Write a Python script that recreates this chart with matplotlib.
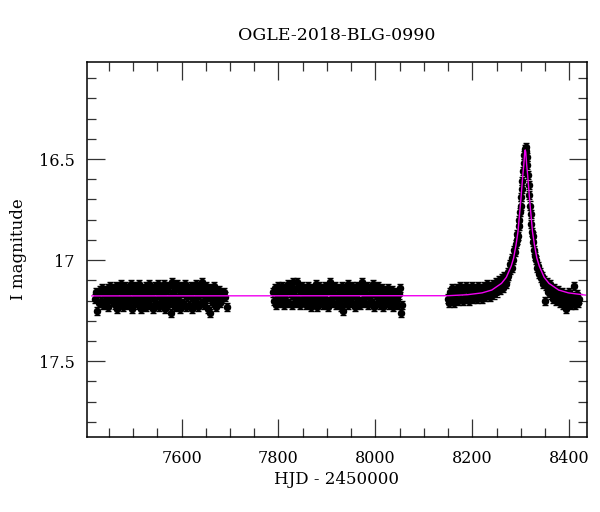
import numpy as np
import matplotlib
matplotlib.use("Agg")
import matplotlib.pyplot as plt
from matplotlib.ticker import MultipleLocator

plt.rcParams['font.family'] = ['DejaVu Serif']

title = "OGLE-2018-BLG-0990"

# season 1
s1_hjd = [7421.3, 7423.2, 7425.8, 7427.1, 7429.6, 7431.4, 7433.9, 7435.2, 7437.8, 7439.5,
          7441.9, 7443.3, 7445.7, 7447.6, 7449.2, 7451.8, 7453.4, 7455.9, 7457.3, 7459.6,
          7461.8, 7463.2, 7465.7, 7467.4, 7469.9, 7471.1, 7473.6, 7475.8, 7477.3, 7479.7,
          7481.4, 7483.8, 7485.2, 7487.9, 7489.5, 7491.3, 7493.7, 7495.2, 7497.8, 7499.4,
          7501.9, 7503.3, 7505.6, 7507.8, 7509.2, 7511.7, 7513.4, 7515.9, 7517.3, 7519.6,
          7521.8, 7523.2, 7525.7, 7527.4, 7529.8, 7531.1, 7533.6, 7535.9, 7537.3, 7539.7,
          7541.4, 7543.8, 7545.2, 7547.9, 7549.5, 7551.3, 7553.7, 7555.2, 7557.8, 7559.4,
          7561.9, 7563.3, 7565.6, 7567.8, 7569.2, 7571.7, 7573.4, 7575.9, 7577.3, 7579.6,
          7581.8, 7583.2, 7585.7, 7587.4, 7589.8, 7591.1, 7593.6, 7595.9, 7597.3, 7599.7,
          7601.4, 7603.8, 7605.2, 7607.9, 7609.5, 7611.3, 7613.7, 7615.2, 7617.8, 7619.4,
          7621.9, 7623.3, 7625.6, 7627.8, 7629.2, 7631.7, 7633.4, 7635.9, 7637.3, 7639.6,
          7641.8, 7643.2, 7645.7, 7647.4, 7649.8, 7651.1, 7653.6, 7655.9, 7657.3, 7659.7,
          7661.4, 7663.8, 7665.2, 7667.9, 7669.5, 7671.3, 7673.7, 7675.2, 7677.8, 7679.4,
          7681.9, 7684.3, 7687.6, 7690.2, 7693.4]
s1_mag = [17.19, 17.16, 17.25, 17.17, 17.21, 17.15, 17.20, 17.14, 17.22, 17.17,
          17.15, 17.21, 17.18, 17.14, 17.23, 17.16, 17.13, 17.20, 17.18, 17.14,
          17.22, 17.17, 17.13, 17.24, 17.19, 17.15, 17.21, 17.12, 17.18, 17.23,
          17.16, 17.13, 17.20, 17.17, 17.22, 17.14, 17.19, 17.12, 17.24, 17.16,
          17.13, 17.21, 17.18, 17.15, 17.22, 17.12, 17.19, 17.24, 17.16, 17.14,
          17.21, 17.17, 17.13, 17.23, 17.19, 17.15, 17.12, 17.22, 17.17, 17.14,
          17.24, 17.19, 17.13, 17.21, 17.16, 17.12, 17.23, 17.18, 17.14, 17.21,
          17.17, 17.12, 17.24, 17.19, 17.15, 17.22, 17.13, 17.18, 17.26, 17.11,
          17.16, 17.21, 17.13, 17.23, 17.18, 17.12, 17.20, 17.15, 17.24, 17.17,
          17.13, 17.21, 17.16, 17.12, 17.23, 17.18, 17.14, 17.22, 17.17, 17.13,
          17.24, 17.19, 17.15, 17.21, 17.12, 17.18, 17.23, 17.16, 17.13, 17.21,
          17.17, 17.11, 17.22, 17.15, 17.19, 17.13, 17.24, 17.17, 17.14, 17.26,
          17.19, 17.15, 17.21, 17.13, 17.18, 17.23, 17.16, 17.19, 17.15, 17.21,
          17.17, 17.19, 17.16, 17.18, 17.23]

# season 2
s2_hjd = [7788.4, 7790.2, 7792.7, 7794.5, 7796.1, 7798.6, 7800.3, 7802.8, 7804.4, 7806.9,
          7808.2, 7810.7, 7812.3, 7814.8, 7816.5, 7818.1, 7820.6, 7822.4, 7824.9, 7826.2,
          7828.7, 7830.3, 7832.8, 7834.5, 7836.1, 7838.6, 7840.4, 7842.9, 7844.2, 7846.7,
          7848.3, 7850.8, 7852.5, 7854.1, 7856.6, 7858.4, 7860.9, 7862.2, 7864.7, 7866.3,
          7868.8, 7870.5, 7872.1, 7874.6, 7876.4, 7878.9, 7880.2, 7882.7, 7884.3, 7886.8,
          7888.5, 7890.1, 7892.6, 7894.4, 7896.9, 7898.2, 7900.7, 7902.3, 7904.8, 7906.5,
          7908.1, 7910.6, 7912.4, 7914.9, 7916.2, 7918.7, 7920.3, 7922.8, 7924.5, 7926.1,
          7928.6, 7930.4, 7932.9, 7934.2, 7936.7, 7938.3, 7940.8, 7942.5, 7944.1, 7946.6,
          7948.4, 7950.9, 7952.2, 7954.7, 7956.3, 7958.8, 7960.5, 7962.1, 7964.6, 7966.4,
          7968.9, 7970.2, 7972.7, 7974.3, 7976.8, 7978.5, 7980.1, 7982.6, 7984.4, 7986.9,
          7988.2, 7990.7, 7992.3, 7994.8, 7996.5, 7998.1, 8000.6, 8002.4, 8004.9, 8006.2,
          8008.7, 8010.3, 8012.8, 8014.5, 8016.1, 8018.6, 8020.4, 8022.9, 8024.2, 8026.7,
          8028.3, 8030.8, 8032.5, 8034.1, 8036.6, 8038.4, 8040.9, 8042.2, 8044.7, 8046.3,
          8048.8, 8050.5, 8052.1, 8054.6]
s2_mag = [17.16, 17.20, 17.14, 17.22, 17.17, 17.13, 17.19, 17.15, 17.21, 17.17,
          17.13, 17.22, 17.18, 17.14, 17.20, 17.16, 17.12, 17.21, 17.17, 17.14,
          17.22, 17.11, 17.18, 17.15, 17.21, 17.11, 17.19, 17.14, 17.22, 17.16,
          17.13, 17.20, 17.17, 17.14, 17.22, 17.18, 17.13, 17.20, 17.16, 17.23,
          17.14, 17.18, 17.21, 17.15, 17.12, 17.19, 17.23, 17.16, 17.13, 17.21,
          17.17, 17.14, 17.22, 17.18, 17.13, 17.20, 17.16, 17.23, 17.14, 17.11,
          17.19, 17.15, 17.21, 17.17, 17.13, 17.22, 17.18, 17.14, 17.20, 17.16,
          17.23, 17.13, 17.25, 17.18, 17.14, 17.21, 17.17, 17.12, 17.22, 17.16,
          17.19, 17.13, 17.21, 17.17, 17.14, 17.23, 17.18, 17.13, 17.20, 17.16,
          17.22, 17.14, 17.11, 17.19, 17.15, 17.21, 17.17, 17.13, 17.22, 17.18,
          17.14, 17.20, 17.16, 17.12, 17.23, 17.17, 17.14, 17.21, 17.18, 17.13,
          17.22, 17.16, 17.19, 17.14, 17.23, 17.17, 17.15, 17.21, 17.18, 17.14,
          17.22, 17.17, 17.20, 17.15, 17.23, 17.18, 17.21, 17.16, 17.19, 17.22,
          17.17, 17.14, 17.26, 17.22]

# season 3 (event)
s3_hjd = [8150.6, 8152.3, 8154.8, 8156.5, 8158.1, 8160.7, 8162.4, 8164.9, 8166.2, 8168.7,
          8170.3, 8172.8, 8174.5, 8176.1, 8178.6, 8180.4, 8182.9, 8184.2, 8186.7, 8188.3,
          8190.8, 8192.5, 8194.1, 8196.6, 8198.4, 8200.9, 8202.2, 8204.7, 8206.3, 8208.8,
          8210.5, 8212.1, 8214.6, 8216.4, 8218.9, 8220.2, 8222.7, 8224.3, 8226.8, 8228.5,
          8230.1, 8232.6, 8234.4, 8236.9, 8238.2, 8240.7, 8242.3, 8244.8, 8246.5, 8248.1,
          8250.6, 8252.4, 8254.9, 8256.2, 8258.7, 8260.3, 8262.8, 8264.5, 8266.1, 8268.6,
          8270.4, 8272.9, 8274.2, 8276.7, 8278.3, 8280.8, 8282.5, 8284.1, 8286.6, 8288.4,
          8290.2, 8291.5, 8292.8, 8294.1, 8295.4, 8296.7, 8298.0, 8299.3, 8300.6, 8301.9,
          8303.2, 8304.5, 8305.8, 8307.1, 8308.4, 8309.7, 8311.0, 8312.3, 8313.6, 8314.9,
          8316.2, 8317.5, 8318.8, 8320.1, 8321.4, 8322.7, 8324.0, 8325.3, 8327.6, 8329.2,
          8331.7, 8333.3, 8335.8, 8337.4, 8339.9, 8341.2, 8343.7, 8345.3, 8347.8, 8349.4,
          8351.1, 8353.6, 8355.2, 8357.7, 8359.3, 8361.8, 8363.4, 8365.9, 8367.5, 8369.1,
          8371.6, 8373.2, 8375.7, 8377.3, 8379.8, 8381.4, 8383.9, 8385.5, 8387.1, 8389.6,
          8391.2, 8393.7, 8395.3, 8397.8, 8399.4, 8401.9, 8403.5, 8405.1, 8407.6, 8409.2,
          8411.7, 8413.3, 8415.8, 8417.4, 8419.9]
s3_mag = [17.19, 17.21, 17.16, 17.20, 17.14, 17.18, 17.21, 17.15, 17.19, 17.14,
          17.20, 17.16, 17.13, 17.19, 17.15, 17.20, 17.14, 17.18, 17.13, 17.19,
          17.15, 17.20, 17.14, 17.17, 17.13, 17.19, 17.15, 17.18, 17.14, 17.19,
          17.16, 17.13, 17.18, 17.15, 17.19, 17.14, 17.17, 17.13, 17.18, 17.15,
          17.12, 17.17, 17.14, 17.18, 17.13, 17.16, 17.12, 17.17, 17.14, 17.11,
          17.16, 17.13, 17.10, 17.15, 17.12, 17.09, 17.14, 17.11, 17.08, 17.12,
          17.09, 17.06, 17.08, 17.05, 17.02, 17.04, 16.99, 17.00, 16.95, 16.96,
          16.92, 16.90, 16.87, 16.88, 16.83, 16.80, 16.76, 16.73, 16.69, 16.65,
          16.61, 16.56, 16.52, 16.48, 16.45, 16.44, 16.46, 16.49, 16.53, 16.58,
          16.63, 16.68, 16.73, 16.77, 16.82, 16.86, 16.88, 16.91, 16.95, 16.98,
          17.00, 17.04, 17.03, 17.07, 17.06, 17.09, 17.08, 17.12, 17.10, 17.20,
          17.13, 17.11, 17.16, 17.14, 17.12, 17.17, 17.15, 17.19, 17.14, 17.18,
          17.16, 17.20, 17.15, 17.19, 17.17, 17.21, 17.16, 17.19, 17.22, 17.17,
          17.20, 17.24, 17.18, 17.21, 17.16, 17.19, 17.22, 17.18, 17.20, 17.13,
          17.22, 17.19, 17.17, 17.21, 17.19]

base_err = 0.02

# fitted model curve
model_hjd = [7415, 8150, 8190, 8220, 8240, 8260, 8270, 8280, 8285, 8290, 8294, 8297,
             8300, 8302, 8304, 8306, 8308, 8309, 8310, 8312, 8314, 8316, 8318, 8321,
             8324, 8328, 8333, 8338, 8348, 8358, 8378, 8398, 8433]
model_mag = [17.177, 17.176, 17.171, 17.162, 17.148, 17.115, 17.085, 17.03, 16.99, 16.925,
             16.86, 16.78, 16.70, 16.64, 16.58, 16.53, 16.465, 16.455, 16.465, 16.53,
             16.58, 16.64, 16.70, 16.78, 16.86, 16.925, 16.99, 17.03, 17.085, 17.115,
             17.148, 17.162, 17.173]

fig = plt.figure(figsize=(6.0, 5.12), dpi=100)
ax = fig.add_axes([0.145, 0.146, 0.833, 0.733])

for t, m in [(s1_hjd, s1_mag), (s2_hjd, s2_mag), (s3_hjd, s3_mag)]:
    ax.errorbar(t, m, yerr=base_err, fmt='o', color='black', ms=4.4,
                elinewidth=1.1, capsize=2.0, capthick=1.0, zorder=2)

ax.plot(model_hjd, model_mag, color='#f000f0', lw=1.0, zorder=3)

ax.set_xlim(7405, 8436)
ax.set_ylim(17.876, 16.02)

ax.xaxis.set_major_locator(MultipleLocator(200))
ax.xaxis.set_minor_locator(MultipleLocator(50))
ax.yaxis.set_major_locator(MultipleLocator(0.5))
ax.yaxis.set_minor_locator(MultipleLocator(0.1))
ax.yaxis.set_major_formatter(plt.FuncFormatter(lambda v, p: f"{v:g}"))

ax.tick_params(which='both', direction='in', top=True, right=True,
               labelsize=11.5, width=0.9, color='#333333')
ax.tick_params(which='major', length=13, pad=9)
ax.tick_params(which='minor', length=6.5)
for s in ax.spines.values():
    s.set_linewidth(1.1)

ax.set_title(title, fontsize=12.5, pad=16)
ax.set_xlabel("HJD - 2450000", fontsize=12)
ax.set_ylabel("I magnitude", fontsize=12)
ax.xaxis.set_label_coords(0.5, -0.09)
ax.yaxis.set_label_coords(-0.12, 0.5)

fig.savefig("out.png", dpi=100)
